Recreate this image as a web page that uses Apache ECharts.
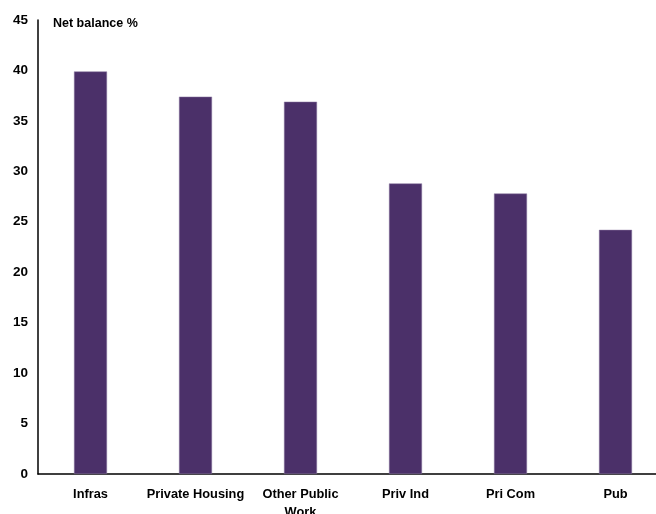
<!DOCTYPE html>
<html><head><meta charset="utf-8">
<script src="https://cdn.jsdelivr.net/npm/echarts@6/dist/echarts.min.js"></script>
<style>html,body{margin:0;padding:0;background:#fff}#c{width:656px;height:514px}</style>
</head><body><div id="c"></div>
<script>
var categories = ['Infras', 'Private Housing', 'Other Public\nWork', 'Priv Ind', 'Pri Com', 'Pub'];
var values = [39.9, 37.4, 36.9, 28.8, 27.8, 24.2];
var yTicks = [0, 5, 10, 15, 20, 25, 30, 35, 40, 45];

var chart = echarts.init(document.getElementById('c'));
var font = 'Liberation Sans, Arial, sans-serif';
chart.setOption({
  animation: false,
  title: {
    text: 'Net balance %', left: 48, top: 12,
    textStyle: {fontFamily: font, fontSize: 12.5, fontWeight: 'bold', color: '#000'}
  },
  grid: {left: 38, right: -12, top: 20, bottom: 40, containLabel: false, outerBoundsMode: 'none'},
  xAxis: {
    type: 'category', data: categories,
    axisLine: {lineStyle: {color: '#000', width: 1.5}},
    axisTick: {show: false},
    axisLabel: {interval: 0, margin: 11, fontFamily: font, fontSize: 12.8, fontWeight: 'bold', color: '#000', lineHeight: 18}
  },
  yAxis: {
    type: 'value', min: yTicks[0], max: yTicks[yTicks.length - 1], interval: 5,
    splitLine: {show: false},
    axisLine: {show: true, lineStyle: {color: '#000', width: 1.5}},
    axisTick: {show: false},
    axisLabel: {margin: 10, fontFamily: font, fontSize: 13.5, fontWeight: 'bold', color: '#000'}
  },
  series: [{
    type: 'bar', data: values, barWidth: 33,
    itemStyle: {color: '#4B3069', borderColor: '#8a78a0', borderWidth: 0.5}
  }]
});
</script></body></html>
